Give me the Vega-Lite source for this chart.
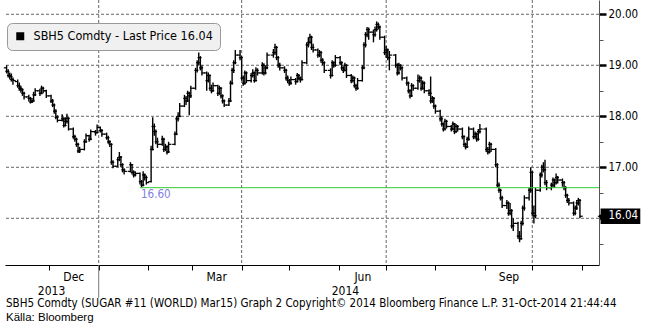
{
"$schema": "https://vega.github.io/schema/vega-lite/v6.json",
"width": 594, "height": 265,
"autosize": {"type": "none"},
"padding": {"left": 5, "top": 0, "right": 47, "bottom": 61},
"background": "white",
"config": {"view": {"stroke": null}, "font": "DejaVu Sans Condensed", "axis": {"labelFont": "DejaVu Sans Condensed", "labelColor": "black", "title": null}},
"title": {"text": "SBH5 Comdty (SUGAR #11 (WORLD) Mar15) Graph 2  Copyright© 2014 Bloomberg Finance L.P.  31-Oct-2014 21:44:44", "subtitle": "Källa: Bloomberg", "orient": "bottom", "anchor": "start", "frame": "group", "font": "DejaVu Sans Condensed", "fontSize": 11.5, "fontWeight": "normal", "color": "black", "subtitleFont": "Liberation Sans", "subtitleFontSize": 11.5, "subtitleColor": "black", "subtitlePadding": 2, "offset": 0, "dx": 1},
"datasets": {
"gy": [{"v": 16}, {"v": 17}, {"v": 18}, {"v": 19}, {"v": 20}],
"gx": [{"t": "2014-01-01"}, {"t": "2014-04-01"}, {"t": "2014-07-01"}, {"t": "2014-10-01"}],
"px": [
{"d":"2013-11-04","o":18.95,"h":19.00,"l":18.84,"c":18.88},
{"d":"2013-11-05","o":18.88,"h":18.92,"l":18.76,"c":18.80},
{"d":"2013-11-06","o":18.80,"h":18.86,"l":18.72,"c":18.78},
{"d":"2013-11-07","o":18.78,"h":18.84,"l":18.68,"c":18.72},
{"d":"2013-11-08","o":18.72,"h":18.76,"l":18.62,"c":18.70},
{"d":"2013-11-11","o":18.68,"h":18.72,"l":18.56,"c":18.60},
{"d":"2013-11-12","o":18.60,"h":18.66,"l":18.50,"c":18.55},
{"d":"2013-11-13","o":18.55,"h":18.60,"l":18.46,"c":18.52},
{"d":"2013-11-14","o":18.52,"h":18.55,"l":18.40,"c":18.45},
{"d":"2013-11-15","o":18.45,"h":18.48,"l":18.33,"c":18.38},
{"d":"2013-11-18","o":18.38,"h":18.42,"l":18.29,"c":18.35},
{"d":"2013-11-19","o":18.35,"h":18.38,"l":18.25,"c":18.28},
{"d":"2013-11-20","o":18.28,"h":18.36,"l":18.26,"c":18.30},
{"d":"2013-11-21","o":18.30,"h":18.48,"l":18.29,"c":18.42},
{"d":"2013-11-22","o":18.42,"h":18.55,"l":18.40,"c":18.50},
{"d":"2013-11-25","o":18.50,"h":18.54,"l":18.40,"c":18.45},
{"d":"2013-11-26","o":18.45,"h":18.60,"l":18.43,"c":18.55},
{"d":"2013-11-27","o":18.55,"h":18.58,"l":18.45,"c":18.50},
{"d":"2013-11-29","o":18.50,"h":18.52,"l":18.36,"c":18.40},
{"d":"2013-12-02","o":18.40,"h":18.42,"l":18.26,"c":18.30},
{"d":"2013-12-03","o":18.30,"h":18.34,"l":18.18,"c":18.22},
{"d":"2013-12-04","o":18.22,"h":18.25,"l":18.05,"c":18.10},
{"d":"2013-12-05","o":18.10,"h":18.14,"l":17.94,"c":17.98},
{"d":"2013-12-06","o":17.98,"h":18.02,"l":17.88,"c":17.92},
{"d":"2013-12-09","o":17.92,"h":18.04,"l":17.90,"c":17.95},
{"d":"2013-12-10","o":17.95,"h":17.98,"l":17.78,"c":17.82},
{"d":"2013-12-11","o":17.82,"h":17.98,"l":17.80,"c":17.90},
{"d":"2013-12-12","o":17.90,"h":18.05,"l":17.86,"c":17.96},
{"d":"2013-12-13","o":17.96,"h":17.98,"l":17.72,"c":17.75},
{"d":"2013-12-16","o":17.75,"h":17.78,"l":17.56,"c":17.60},
{"d":"2013-12-17","o":17.60,"h":17.64,"l":17.50,"c":17.55},
{"d":"2013-12-18","o":17.55,"h":17.58,"l":17.40,"c":17.45},
{"d":"2013-12-19","o":17.45,"h":17.48,"l":17.28,"c":17.32},
{"d":"2013-12-20","o":17.32,"h":17.40,"l":17.28,"c":17.35},
{"d":"2013-12-23","o":17.35,"h":17.55,"l":17.33,"c":17.50},
{"d":"2013-12-24","o":17.50,"h":17.66,"l":17.48,"c":17.62},
{"d":"2013-12-26","o":17.62,"h":17.64,"l":17.50,"c":17.55},
{"d":"2013-12-27","o":17.55,"h":17.74,"l":17.53,"c":17.70},
{"d":"2013-12-30","o":17.70,"h":17.73,"l":17.62,"c":17.68},
{"d":"2013-12-31","o":17.68,"h":17.84,"l":17.66,"c":17.78},
{"d":"2014-01-02","o":17.78,"h":17.80,"l":17.68,"c":17.72},
{"d":"2014-01-03","o":17.72,"h":17.75,"l":17.60,"c":17.65},
{"d":"2014-01-06","o":17.65,"h":17.68,"l":17.54,"c":17.58},
{"d":"2014-01-07","o":17.58,"h":17.62,"l":17.46,"c":17.50},
{"d":"2014-01-08","o":17.50,"h":17.53,"l":17.40,"c":17.45},
{"d":"2014-01-09","o":17.45,"h":17.47,"l":17.05,"c":17.10},
{"d":"2014-01-10","o":17.10,"h":17.14,"l":16.98,"c":17.02},
{"d":"2014-01-13","o":17.02,"h":17.20,"l":17.00,"c":17.15},
{"d":"2014-01-14","o":17.15,"h":17.30,"l":17.12,"c":17.20},
{"d":"2014-01-15","o":17.20,"h":17.22,"l":17.00,"c":17.05},
{"d":"2014-01-16","o":17.05,"h":17.08,"l":16.90,"c":16.95},
{"d":"2014-01-17","o":16.95,"h":16.98,"l":16.86,"c":16.92},
{"d":"2014-01-21","o":16.92,"h":17.10,"l":16.90,"c":17.05},
{"d":"2014-01-22","o":17.05,"h":17.06,"l":16.86,"c":16.90},
{"d":"2014-01-23","o":16.90,"h":16.94,"l":16.80,"c":16.85},
{"d":"2014-01-24","o":16.85,"h":16.92,"l":16.82,"c":16.88},
{"d":"2014-01-27","o":16.88,"h":16.90,"l":16.66,"c":16.72},
{"d":"2014-01-28","o":16.72,"h":16.75,"l":16.60,"c":16.65},
{"d":"2014-01-29","o":16.65,"h":16.92,"l":16.63,"c":16.85},
{"d":"2014-01-30","o":16.85,"h":16.88,"l":16.74,"c":16.80},
{"d":"2014-01-31","o":16.80,"h":16.84,"l":16.66,"c":16.70},
{"d":"2014-02-03","o":16.72,"h":17.42,"l":16.70,"c":17.35},
{"d":"2014-02-04","o":17.35,"h":17.98,"l":17.33,"c":17.80},
{"d":"2014-02-05","o":17.80,"h":17.86,"l":17.62,"c":17.70},
{"d":"2014-02-06","o":17.70,"h":17.74,"l":17.45,"c":17.50},
{"d":"2014-02-07","o":17.50,"h":17.58,"l":17.38,"c":17.45},
{"d":"2014-02-10","o":17.45,"h":17.62,"l":17.42,"c":17.55},
{"d":"2014-02-11","o":17.55,"h":17.58,"l":17.30,"c":17.35},
{"d":"2014-02-12","o":17.35,"h":17.46,"l":17.32,"c":17.40},
{"d":"2014-02-13","o":17.40,"h":17.43,"l":17.25,"c":17.30},
{"d":"2014-02-14","o":17.30,"h":17.50,"l":17.28,"c":17.45},
{"d":"2014-02-18","o":17.45,"h":17.70,"l":17.43,"c":17.65},
{"d":"2014-02-19","o":17.65,"h":18.00,"l":17.63,"c":17.95},
{"d":"2014-02-20","o":17.95,"h":18.08,"l":17.90,"c":18.00},
{"d":"2014-02-21","o":18.00,"h":18.26,"l":17.98,"c":18.20},
{"d":"2014-02-24","o":18.20,"h":18.42,"l":18.18,"c":18.35},
{"d":"2014-02-25","o":18.35,"h":18.40,"l":18.22,"c":18.30},
{"d":"2014-02-26","o":18.30,"h":18.50,"l":18.28,"c":18.45},
{"d":"2014-02-27","o":18.45,"h":18.48,"l":18.02,"c":18.40},
{"d":"2014-02-28","o":18.40,"h":18.60,"l":18.36,"c":18.55},
{"d":"2014-03-03","o":18.55,"h":18.95,"l":18.52,"c":18.90},
{"d":"2014-03-04","o":18.90,"h":19.10,"l":18.86,"c":19.05},
{"d":"2014-03-05","o":19.05,"h":19.25,"l":19.00,"c":19.15},
{"d":"2014-03-06","o":19.15,"h":19.18,"l":18.90,"c":18.95},
{"d":"2014-03-07","o":18.95,"h":19.00,"l":18.80,"c":18.85},
{"d":"2014-03-10","o":18.85,"h":18.88,"l":18.50,"c":18.70},
{"d":"2014-03-11","o":18.70,"h":18.86,"l":18.66,"c":18.80},
{"d":"2014-03-12","o":18.80,"h":18.82,"l":18.50,"c":18.55},
{"d":"2014-03-13","o":18.55,"h":18.62,"l":18.45,"c":18.50},
{"d":"2014-03-14","o":18.50,"h":18.66,"l":18.48,"c":18.60},
{"d":"2014-03-17","o":18.60,"h":18.62,"l":18.40,"c":18.45},
{"d":"2014-03-18","o":18.45,"h":18.60,"l":18.42,"c":18.55},
{"d":"2014-03-19","o":18.55,"h":18.57,"l":18.35,"c":18.40},
{"d":"2014-03-20","o":18.40,"h":18.43,"l":18.25,"c":18.30},
{"d":"2014-03-21","o":18.30,"h":18.33,"l":18.18,"c":18.22},
{"d":"2014-03-24","o":18.22,"h":18.36,"l":18.20,"c":18.30},
{"d":"2014-03-25","o":18.30,"h":18.70,"l":18.28,"c":18.65},
{"d":"2014-03-26","o":18.65,"h":18.95,"l":18.62,"c":18.90},
{"d":"2014-03-27","o":18.90,"h":19.10,"l":18.85,"c":19.05},
{"d":"2014-03-28","o":19.05,"h":19.30,"l":19.02,"c":19.20},
{"d":"2014-03-31","o":19.20,"h":19.30,"l":19.10,"c":19.15},
{"d":"2014-04-01","o":19.15,"h":19.18,"l":18.70,"c":18.75},
{"d":"2014-04-02","o":18.75,"h":18.80,"l":18.60,"c":18.65},
{"d":"2014-04-03","o":18.65,"h":18.90,"l":18.62,"c":18.85},
{"d":"2014-04-04","o":18.85,"h":18.88,"l":18.65,"c":18.70},
{"d":"2014-04-07","o":18.70,"h":18.85,"l":18.66,"c":18.80},
{"d":"2014-04-08","o":18.80,"h":18.92,"l":18.76,"c":18.85},
{"d":"2014-04-09","o":18.85,"h":18.88,"l":18.66,"c":18.70},
{"d":"2014-04-10","o":18.70,"h":18.96,"l":18.68,"c":18.90},
{"d":"2014-04-11","o":18.90,"h":18.94,"l":18.80,"c":18.85},
{"d":"2014-04-14","o":18.85,"h":19.06,"l":18.82,"c":19.00},
{"d":"2014-04-15","o":19.00,"h":19.04,"l":18.80,"c":18.85},
{"d":"2014-04-16","o":18.85,"h":19.00,"l":18.82,"c":18.95},
{"d":"2014-04-17","o":18.95,"h":19.25,"l":18.92,"c":19.20},
{"d":"2014-04-21","o":19.20,"h":19.32,"l":19.15,"c":19.25},
{"d":"2014-04-22","o":19.25,"h":19.42,"l":19.20,"c":19.35},
{"d":"2014-04-23","o":19.35,"h":19.38,"l":19.10,"c":19.15},
{"d":"2014-04-24","o":19.15,"h":19.18,"l":18.95,"c":19.00},
{"d":"2014-04-25","o":19.00,"h":19.05,"l":18.90,"c":18.95},
{"d":"2014-04-28","o":18.95,"h":18.98,"l":18.85,"c":18.90},
{"d":"2014-04-29","o":18.90,"h":18.93,"l":18.70,"c":18.75},
{"d":"2014-04-30","o":18.75,"h":18.80,"l":18.65,"c":18.70},
{"d":"2014-05-01","o":18.70,"h":18.73,"l":18.60,"c":18.65},
{"d":"2014-05-02","o":18.65,"h":18.78,"l":18.62,"c":18.72},
{"d":"2014-05-05","o":18.72,"h":18.75,"l":18.62,"c":18.68},
{"d":"2014-05-06","o":18.68,"h":18.85,"l":18.66,"c":18.80},
{"d":"2014-05-07","o":18.80,"h":18.83,"l":18.70,"c":18.75},
{"d":"2014-05-08","o":18.75,"h":18.78,"l":18.66,"c":18.72},
{"d":"2014-05-09","o":18.72,"h":19.10,"l":18.70,"c":19.05},
{"d":"2014-05-12","o":19.05,"h":19.45,"l":19.02,"c":19.40},
{"d":"2014-05-13","o":19.40,"h":19.55,"l":19.35,"c":19.45},
{"d":"2014-05-14","o":19.45,"h":19.62,"l":19.42,"c":19.55},
{"d":"2014-05-15","o":19.55,"h":19.58,"l":19.30,"c":19.35},
{"d":"2014-05-16","o":19.35,"h":19.42,"l":19.25,"c":19.30},
{"d":"2014-05-19","o":19.30,"h":19.33,"l":19.15,"c":19.20},
{"d":"2014-05-20","o":19.20,"h":19.30,"l":19.16,"c":19.25},
{"d":"2014-05-21","o":19.25,"h":19.28,"l":19.05,"c":19.10},
{"d":"2014-05-22","o":19.10,"h":19.14,"l":19.00,"c":19.05},
{"d":"2014-05-23","o":19.05,"h":19.08,"l":18.85,"c":18.90},
{"d":"2014-05-27","o":18.90,"h":18.94,"l":18.74,"c":18.80},
{"d":"2014-05-28","o":18.80,"h":19.10,"l":18.78,"c":19.05},
{"d":"2014-05-29","o":19.05,"h":19.08,"l":18.95,"c":19.00},
{"d":"2014-05-30","o":19.00,"h":19.20,"l":18.97,"c":19.15},
{"d":"2014-06-02","o":19.15,"h":19.18,"l":19.00,"c":19.05},
{"d":"2014-06-03","o":19.05,"h":19.08,"l":18.90,"c":18.95},
{"d":"2014-06-04","o":18.95,"h":18.98,"l":18.85,"c":18.90},
{"d":"2014-06-05","o":18.90,"h":19.05,"l":18.88,"c":19.00},
{"d":"2014-06-06","o":19.00,"h":19.02,"l":18.75,"c":18.80},
{"d":"2014-06-09","o":18.80,"h":18.83,"l":18.65,"c":18.70},
{"d":"2014-06-10","o":18.70,"h":18.80,"l":18.66,"c":18.75},
{"d":"2014-06-11","o":18.75,"h":18.78,"l":18.56,"c":18.60},
{"d":"2014-06-12","o":18.60,"h":18.64,"l":18.50,"c":18.55},
{"d":"2014-06-13","o":18.55,"h":18.75,"l":18.52,"c":18.70},
{"d":"2014-06-16","o":18.70,"h":19.00,"l":18.68,"c":18.95},
{"d":"2014-06-17","o":18.95,"h":19.45,"l":18.92,"c":19.40},
{"d":"2014-06-18","o":19.40,"h":19.65,"l":19.35,"c":19.60},
{"d":"2014-06-19","o":19.60,"h":19.75,"l":19.55,"c":19.70},
{"d":"2014-06-20","o":19.70,"h":19.74,"l":19.50,"c":19.65},
{"d":"2014-06-23","o":19.65,"h":19.70,"l":19.45,"c":19.60},
{"d":"2014-06-24","o":19.60,"h":19.76,"l":19.56,"c":19.70},
{"d":"2014-06-25","o":19.70,"h":19.86,"l":19.66,"c":19.80},
{"d":"2014-06-26","o":19.80,"h":19.84,"l":19.70,"c":19.75},
{"d":"2014-06-27","o":19.75,"h":19.78,"l":19.50,"c":19.55},
{"d":"2014-06-30","o":19.55,"h":19.58,"l":19.20,"c":19.25},
{"d":"2014-07-01","o":19.25,"h":19.38,"l":19.15,"c":19.30},
{"d":"2014-07-02","o":19.30,"h":19.33,"l":19.10,"c":19.15},
{"d":"2014-07-03","o":19.15,"h":19.28,"l":18.90,"c":19.20},
{"d":"2014-07-07","o":19.20,"h":19.22,"l":18.95,"c":19.00},
{"d":"2014-07-08","o":19.00,"h":19.04,"l":18.80,"c":18.85},
{"d":"2014-07-09","o":18.85,"h":19.05,"l":18.82,"c":19.00},
{"d":"2014-07-10","o":19.00,"h":19.02,"l":18.90,"c":18.95},
{"d":"2014-07-11","o":18.95,"h":18.98,"l":18.70,"c":18.75},
{"d":"2014-07-14","o":18.75,"h":18.78,"l":18.60,"c":18.65},
{"d":"2014-07-15","o":18.65,"h":18.68,"l":18.45,"c":18.50},
{"d":"2014-07-16","o":18.50,"h":18.53,"l":18.35,"c":18.40},
{"d":"2014-07-17","o":18.40,"h":18.65,"l":18.38,"c":18.60},
{"d":"2014-07-18","o":18.60,"h":18.63,"l":18.50,"c":18.55},
{"d":"2014-07-21","o":18.55,"h":18.82,"l":18.52,"c":18.70},
{"d":"2014-07-22","o":18.70,"h":18.80,"l":18.66,"c":18.75},
{"d":"2014-07-23","o":18.75,"h":18.78,"l":18.50,"c":18.55},
{"d":"2014-07-24","o":18.55,"h":18.70,"l":18.52,"c":18.65},
{"d":"2014-07-25","o":18.65,"h":18.68,"l":18.45,"c":18.50},
{"d":"2014-07-28","o":18.50,"h":18.53,"l":18.40,"c":18.45},
{"d":"2014-07-29","o":18.45,"h":18.78,"l":18.25,"c":18.30},
{"d":"2014-07-30","o":18.30,"h":18.40,"l":18.26,"c":18.35},
{"d":"2014-07-31","o":18.35,"h":18.38,"l":18.15,"c":18.20},
{"d":"2014-08-01","o":18.20,"h":18.23,"l":18.05,"c":18.10},
{"d":"2014-08-04","o":18.10,"h":18.13,"l":17.90,"c":17.95},
{"d":"2014-08-05","o":17.95,"h":18.00,"l":17.80,"c":17.85},
{"d":"2014-08-06","o":17.85,"h":17.88,"l":17.70,"c":17.75},
{"d":"2014-08-07","o":17.75,"h":17.95,"l":17.72,"c":17.90},
{"d":"2014-08-08","o":17.90,"h":17.93,"l":17.76,"c":17.80},
{"d":"2014-08-11","o":17.80,"h":17.83,"l":17.70,"c":17.75},
{"d":"2014-08-12","o":17.75,"h":17.90,"l":17.72,"c":17.85},
{"d":"2014-08-13","o":17.85,"h":17.87,"l":17.65,"c":17.70},
{"d":"2014-08-14","o":17.70,"h":17.85,"l":17.67,"c":17.80},
{"d":"2014-08-15","o":17.80,"h":17.83,"l":17.70,"c":17.75},
{"d":"2014-08-18","o":17.75,"h":17.78,"l":17.55,"c":17.60},
{"d":"2014-08-19","o":17.60,"h":17.63,"l":17.40,"c":17.45},
{"d":"2014-08-20","o":17.45,"h":17.48,"l":17.35,"c":17.40},
{"d":"2014-08-21","o":17.40,"h":17.60,"l":17.38,"c":17.55},
{"d":"2014-08-22","o":17.55,"h":17.80,"l":17.52,"c":17.75},
{"d":"2014-08-25","o":17.75,"h":17.78,"l":17.55,"c":17.60},
{"d":"2014-08-26","o":17.60,"h":17.70,"l":17.56,"c":17.65},
{"d":"2014-08-27","o":17.65,"h":17.68,"l":17.50,"c":17.55},
{"d":"2014-08-28","o":17.55,"h":17.75,"l":17.52,"c":17.70},
{"d":"2014-08-29","o":17.70,"h":17.85,"l":17.66,"c":17.75},
{"d":"2014-09-02","o":17.75,"h":17.78,"l":17.30,"c":17.35},
{"d":"2014-09-03","o":17.35,"h":17.40,"l":17.25,"c":17.30},
{"d":"2014-09-04","o":17.30,"h":17.50,"l":17.27,"c":17.45},
{"d":"2014-09-05","o":17.45,"h":17.48,"l":17.30,"c":17.35},
{"d":"2014-09-08","o":17.35,"h":17.38,"l":17.00,"c":17.05},
{"d":"2014-09-09","o":17.05,"h":17.08,"l":16.60,"c":16.65},
{"d":"2014-09-10","o":16.65,"h":16.70,"l":16.50,"c":16.55},
{"d":"2014-09-11","o":16.55,"h":16.58,"l":16.35,"c":16.40},
{"d":"2014-09-12","o":16.40,"h":16.44,"l":16.20,"c":16.25},
{"d":"2014-09-15","o":16.25,"h":16.36,"l":16.18,"c":16.30},
{"d":"2014-09-16","o":16.30,"h":16.33,"l":16.05,"c":16.10},
{"d":"2014-09-17","o":16.10,"h":16.30,"l":16.06,"c":16.15},
{"d":"2014-09-18","o":16.15,"h":16.18,"l":15.80,"c":15.85},
{"d":"2014-09-19","o":15.85,"h":16.00,"l":15.75,"c":15.90},
{"d":"2014-09-22","o":15.90,"h":15.93,"l":15.60,"c":15.65},
{"d":"2014-09-23","o":15.65,"h":15.75,"l":15.53,"c":15.60},
{"d":"2014-09-24","o":15.60,"h":15.95,"l":15.58,"c":15.90},
{"d":"2014-09-25","o":15.90,"h":16.25,"l":15.86,"c":16.20},
{"d":"2014-09-26","o":16.20,"h":16.45,"l":16.15,"c":16.40},
{"d":"2014-09-29","o":16.40,"h":16.60,"l":16.35,"c":16.55},
{"d":"2014-09-30","o":16.55,"h":17.00,"l":16.50,"c":16.90},
{"d":"2014-10-01","o":16.90,"h":16.92,"l":16.05,"c":16.10},
{"d":"2014-10-02","o":16.10,"h":16.25,"l":15.90,"c":16.05},
{"d":"2014-10-03","o":16.05,"h":16.60,"l":16.00,"c":16.55},
{"d":"2014-10-06","o":16.55,"h":16.90,"l":16.52,"c":16.85},
{"d":"2014-10-07","o":16.85,"h":17.05,"l":16.80,"c":17.00},
{"d":"2014-10-08","o":17.00,"h":17.10,"l":16.90,"c":16.95},
{"d":"2014-10-09","o":16.95,"h":17.15,"l":16.65,"c":16.70},
{"d":"2014-10-10","o":16.70,"h":16.75,"l":16.55,"c":16.60},
{"d":"2014-10-13","o":16.60,"h":16.70,"l":16.55,"c":16.65},
{"d":"2014-10-14","o":16.65,"h":16.80,"l":16.60,"c":16.75},
{"d":"2014-10-15","o":16.75,"h":16.78,"l":16.60,"c":16.70},
{"d":"2014-10-16","o":16.70,"h":16.88,"l":16.66,"c":16.80},
{"d":"2014-10-17","o":16.80,"h":16.83,"l":16.68,"c":16.75},
{"d":"2014-10-20","o":16.75,"h":16.78,"l":16.62,"c":16.70},
{"d":"2014-10-21","o":16.70,"h":16.73,"l":16.55,"c":16.60},
{"d":"2014-10-22","o":16.60,"h":16.63,"l":16.40,"c":16.45},
{"d":"2014-10-23","o":16.45,"h":16.48,"l":16.30,"c":16.35},
{"d":"2014-10-24","o":16.35,"h":16.40,"l":16.25,"c":16.30},
{"d":"2014-10-27","o":16.30,"h":16.33,"l":16.05,"c":16.10},
{"d":"2014-10-28","o":16.10,"h":16.25,"l":16.06,"c":16.20},
{"d":"2014-10-29","o":16.20,"h":16.36,"l":16.16,"c":16.30},
{"d":"2014-10-30","o":16.30,"h":16.40,"l":16.25,"c":16.35},
{"d":"2014-10-31","o":16.35,"h":16.38,"l":16.00,"c":16.04}
]},
"layer": [
{"data": {"name": "gy"},
 "mark": {"type": "rule", "color": "#666666", "strokeWidth": 1, "strokeDash": [3, 2], "opacity": 1},
 "encoding": {"y": {"field": "v", "type": "quantitative", "axis": null}}},
{"data": {"name": "gx"},
 "mark": {"type": "rule", "color": "#666666", "strokeWidth": 1, "strokeDash": [3, 2], "opacity": 1},
 "encoding": {"x": {"field": "t", "type": "temporal", "axis": null}}},
{"data": {"values": [{}]},
 "mark": {"type": "rule", "color": "#777777", "strokeWidth": 1, "clip": false, "opacity": 1},
 "encoding": {
  "x": {"datum": {"year": 2014, "month": 1, "date": 1, "utc": true}, "type": "temporal", "axis": null},
  "y": {"datum": 15.084, "type": "quantitative", "axis": null},
  "y2": {"datum": 14.44}}},
{"data": {"name": "px"},
 "mark": {"type": "rule", "color": "black", "strokeWidth": 1.4},
 "encoding": {
  "x": {"field": "d", "type": "temporal",
   "scale": {"type": "utc", "domain": [{"year": 2013, "month": 11, "date": 3, "utc": true}, {"year": 2014, "month": 11, "date": 12, "utc": true}]},
   "axis": {"orient": "bottom", "labels": false, "ticks": true, "tickSize": 5, "tickColor": "black", "domain": true, "domainColor": "black", "title": null, "grid": false,
    "values": [{"year": 2013, "month": 12, "date": 1, "utc": true}, {"year": 2014, "month": 1, "date": 1, "utc": true}, {"year": 2014, "month": 2, "date": 1, "utc": true}, {"year": 2014, "month": 3, "date": 1, "utc": true}, {"year": 2014, "month": 4, "date": 1, "utc": true}, {"year": 2014, "month": 5, "date": 1, "utc": true}, {"year": 2014, "month": 6, "date": 1, "utc": true}, {"year": 2014, "month": 7, "date": 1, "utc": true}, {"year": 2014, "month": 8, "date": 1, "utc": true}, {"year": 2014, "month": 9, "date": 1, "utc": true}, {"year": 2014, "month": 10, "date": 1, "utc": true}, {"year": 2014, "month": 11, "date": 1, "utc": true}]}},
  "y": {"field": "l", "type": "quantitative",
   "scale": {"domain": [15.084, 20.28], "nice": false, "zero": false},
   "axis": {"orient": "right", "values": [16, 17, 18, 19, 20], "labelExpr": "datum.value == 16 ? '' : format(datum.value, '.2f')", "grid": false, "ticks": true, "tickSize": 7, "tickWidth": 2.5, "tickColor": "black", "labelPadding": 2, "labelFontSize": 11.5, "labelColor": "black", "domain": true, "domainColor": "#555", "title": null}},
  "y2": {"field": "h"}
 }},
{"data": {"name": "px"},
 "mark": {"type": "tick", "orient": "horizontal", "color": "black", "size": 3, "thickness": 1.2, "xOffset": -1.3, "opacity": 1},
 "encoding": {
  "x": {"field": "d", "type": "temporal",
   "axis": {"orient": "bottom", "labels": true, "ticks": false, "tickSize": 0, "domain": false, "grid": false, "labelPadding": 6, "labelFontSize": 12, "labelColor": "black", "labelOverlap": false, "labelFlush": false, "labelExpr": "utcFormat(datum.value, '%b')", "title": null,
    "values": [{"year": 2013, "month": 12, "date": 16, "utc": true}, {"year": 2014, "month": 3, "date": 16, "utc": true}, {"year": 2014, "month": 6, "date": 16, "utc": true}, {"year": 2014, "month": 9, "date": 16, "utc": true}]}},
  "y": {"field": "o", "type": "quantitative",
   "axis": {"orient": "right", "values": [15.5, 16.5, 17.5, 18.5, 19.5], "labels": false, "ticks": true, "tickSize": 4, "tickColor": "#555", "domain": false, "grid": false, "title": null}}
 }},
{"data": {"name": "px"},
 "mark": {"type": "tick", "orient": "horizontal", "color": "black", "size": 3, "thickness": 1.2, "xOffset": 1.3, "opacity": 1},
 "encoding": {
  "x": {"field": "d", "type": "temporal",
   "axis": {"orient": "bottom", "labels": true, "ticks": false, "tickSize": 0, "domain": false, "grid": false, "labelPadding": 20, "labelFontSize": 12, "labelColor": "black", "labelOverlap": false, "labelFlush": false, "labelExpr": "utcFormat(datum.value, '%Y')", "title": null,
    "values": [{"year": 2013, "month": 12, "date": 2, "utc": true}, {"year": 2014, "month": 6, "date": 5, "utc": true}]}},
  "y": {"field": "c", "type": "quantitative", "axis": null}
 }},
{"data": {"values": [{}]},
 "mark": {"type": "rule", "color": "#33cc33", "strokeWidth": 1},
 "encoding": {
  "x": {"datum": {"year": 2014, "month": 1, "date": 27, "utc": true}, "type": "temporal", "axis": null},
  "x2": {"datum": {"year": 2014, "month": 11, "date": 12, "utc": true}},
  "y": {"datum": 16.6, "type": "quantitative", "axis": null}
 }},
{"data": {"values": [{}]},
 "mark": {"type": "text", "align": "left", "baseline": "top", "dx": 1, "dy": 1, "color": "#7f7fdf", "fontSize": 11.5, "font": "DejaVu Sans Condensed", "text": "16.60"},
 "encoding": {
  "x": {"datum": {"year": 2014, "month": 1, "date": 27, "utc": true}, "type": "temporal", "axis": null},
  "y": {"datum": 16.6, "type": "quantitative", "axis": null}
 }},
{"data": {"values": [{}]},
 "mark": {"type": "rect", "clip": false},
 "encoding": {
  "x": {"datum": {"year": 2014, "month": 11, "date": 13, "utc": true}, "type": "temporal", "axis": null},
  "x2": {"datum": {"year": 2014, "month": 12, "date": 8, "utc": true}},
  "y": {"datum": 16.19, "type": "quantitative", "axis": null},
  "y2": {"datum": 15.89},
  "color": {"datum": "SBH5 Comdty - Last Price 16.04", "type": "nominal", "scale": {"range": ["black"]},
   "legend": {"orient": "none", "legendX": 2, "legendY": 23, "title": null, "symbolType": "square", "symbolSize": 64, "labelFontSize": 12.5, "labelFont": "DejaVu Sans Condensed", "labelColor": "black", "labelLimit": 400, "fillColor": "#f0f0f0", "strokeColor": "#999", "cornerRadius": 5, "padding": 7, "labelOffset": 7}}
 }},
{"data": {"values": [{}]},
 "mark": {"type": "point", "shape": "triangle-left", "filled": true, "color": "black", "size": 50, "opacity": 1, "clip": false},
 "encoding": {
  "x": {"datum": {"year": 2014, "month": 11, "date": 13, "utc": true}, "type": "temporal", "axis": null},
  "y": {"datum": 16.04, "type": "quantitative", "axis": null}
 }},
{"data": {"values": [{}]},
 "mark": {"type": "text", "align": "left", "baseline": "middle", "color": "white", "fontSize": 11.5, "font": "DejaVu Sans Condensed", "text": "16.04", "clip": false},
 "encoding": {
  "x": {"datum": {"year": 2014, "month": 11, "date": 18, "utc": true}, "type": "temporal", "axis": null},
  "y": {"datum": 16.04, "type": "quantitative", "axis": null}
 }}
],
"resolve": {"axis": {"x": "independent", "y": "independent"}}
}
